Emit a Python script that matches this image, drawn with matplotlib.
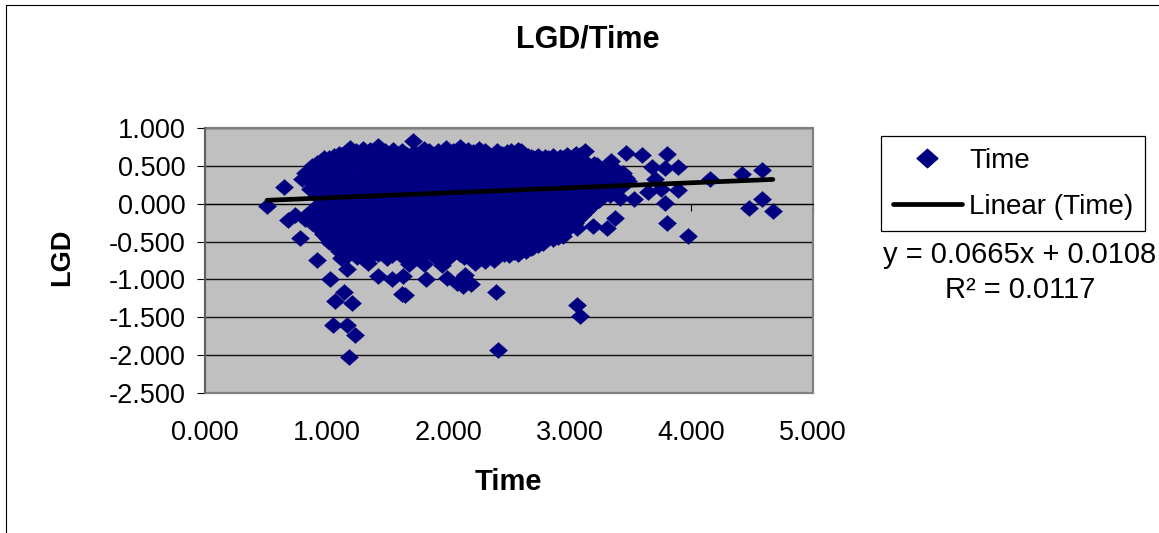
import matplotlib
matplotlib.use("Agg")
import matplotlib.pyplot as plt
from matplotlib.lines import Line2D
from matplotlib.patches import Rectangle
from matplotlib.path import Path

plt.rcParams['font.family'] = ['Liberation Sans', 'DejaVu Sans']

# Readings: isolated points around the cloud
time_outer = [0.51, 0.65, 0.78, 0.68, 0.74, 0.92, 1.03, 1.14, 1.07, 1.21, 1.05, 1.165, 1.23, 1.185,
              1.425, 1.535, 1.645, 1.62, 1.63, 1.82, 1.99, 2.07, 2.14, 2.12, 2.19, 2.39, 2.41,
              3.06, 3.08, 4.67, 4.47, 4.58, 4.58, 4.42, 4.15, 3.97, 3.80, 3.78, 3.89, 3.89,
              3.80, 3.78, 3.70, 3.68, 3.64, 3.59, 3.46, 3.53, 3.41, 3.37, 3.31, 3.06, 3.19,
              2.86, 3.125, 2.57, 2.57, 3.34, 3.75, 1.71]
lgd_outer = [-0.035, 0.22, -0.45, -0.21, -0.145, -0.74, -0.995, -1.16, -1.29, -1.31, -1.60, -1.60, -1.73, -2.02,
             -0.96, -0.995, -1.20, -1.19, -0.96, -1.00, -0.98, -1.05, -0.94, -1.09, -1.06, -1.16, -1.93,
             -1.34, -1.48, -0.097, -0.06, 0.065, 0.45, 0.39, 0.32, -0.42, -0.255, 0.01, 0.185, 0.48,
             0.655, 0.47, 0.33, 0.49, 0.15, 0.65, 0.67, 0.06, 0.08, -0.185, -0.32, -0.32, -0.30,
             -0.38, 0.69, 0.71, -0.67, 0.56, 0.20, 0.83]

# Readings: the dense cloud, one list per band of LGD
time_b73 = [1.24, 1.36, 1.48, 1.62, 1.84, 1.92, 2.04, 2.16, 2.30, 2.40, 2.52, 2.60]
lgd_b73 = [0.70, 0.71, 0.70, 0.70, 0.70, 0.69, 0.70, 0.71, 0.70, 0.69, 0.70, 0.69]
time_b70 = [1.10, 1.19, 1.30, 1.42, 1.55, 1.80, 1.98, 2.10, 2.25, 2.48, 2.66, 3.05]
lgd_b70 = [0.66, 0.74, 0.72, 0.76, 0.71, 0.72, 0.73, 0.75, 0.72, 0.68, 0.63, 0.66]
time_b68 = [1.12, 1.24, 1.36, 1.48, 1.60, 1.72, 1.84, 1.96, 2.08, 2.20, 2.32, 2.44, 2.56, 2.68, 2.80, 2.92, 3.04]
lgd_b68 = [0.64, 0.67, 0.68, 0.68, 0.67, 0.68, 0.68, 0.67, 0.68, 0.68, 0.67, 0.66, 0.67, 0.62, 0.62, 0.62, 0.64]
time_b65 = [1.06, 1.18, 1.30, 1.42, 1.54, 1.66, 1.78, 1.90, 2.02, 2.14, 2.26, 2.38, 2.50, 2.62, 2.74, 2.86, 2.98, 3.08]
lgd_b65 = [0.63, 0.65, 0.66, 0.65, 0.66, 0.65, 0.66, 0.65, 0.66, 0.65, 0.66, 0.65, 0.65, 0.64, 0.63, 0.63, 0.64, 0.65]
time_b62 = [1.02, 1.14, 1.26, 1.38, 1.50, 1.62, 1.74, 1.86, 1.98, 2.10, 2.22, 2.34, 2.46, 2.58, 2.70, 2.82, 2.94, 3.06]
lgd_b62 = [0.60, 0.62, 0.62, 0.63, 0.62, 0.62, 0.63, 0.62, 0.62, 0.63, 0.62, 0.62, 0.63, 0.62, 0.60, 0.60, 0.61, 0.62]
time_b60 = [0.98, 1.10, 1.22, 1.35, 1.47, 1.60, 1.72, 1.85, 1.97, 2.10, 2.22, 2.35, 2.47, 2.60, 2.72, 2.85, 2.98]
lgd_b60 = [0.60, 0.59, 0.62, 0.61, 0.60, 0.62, 0.61, 0.60, 0.62, 0.61, 0.60, 0.62, 0.60, 0.61, 0.60, 0.59, 0.60]
time_b58 = [0.96, 1.08, 1.20, 1.32, 1.44, 1.56, 1.68, 1.80, 1.92, 2.04, 2.16, 2.28, 2.40, 2.52, 2.64, 2.76, 2.88, 3.00, 3.12]
lgd_b58 = [0.57, 0.58, 0.58, 0.59, 0.58, 0.58, 0.59, 0.58, 0.58, 0.59, 0.58, 0.58, 0.59, 0.58, 0.58, 0.59, 0.58, 0.58, 0.57]
time_b55 = [0.92, 1.04, 1.16, 1.28, 1.40, 1.52, 1.64, 1.76, 1.88, 2.00, 2.12, 2.24, 2.36, 2.48, 2.60, 2.72, 2.84, 2.96, 3.08, 3.20]
lgd_b55 = [0.54, 0.55, 0.55, 0.56, 0.55, 0.55, 0.56, 0.55, 0.55, 0.56, 0.55, 0.55, 0.56, 0.55, 0.55, 0.56, 0.55, 0.55, 0.56, 0.53]
time_b52 = [0.94, 1.06, 1.18, 1.30, 1.42, 1.54, 1.66, 1.78, 1.90, 2.02, 2.14, 2.26, 2.38, 2.50, 2.62, 2.74, 2.86, 2.98, 3.10, 3.22]
lgd_b52 = [0.52, 0.52, 0.53, 0.52, 0.52, 0.53, 0.52, 0.52, 0.53, 0.52, 0.52, 0.53, 0.52, 0.52, 0.53, 0.52, 0.52, 0.53, 0.52, 0.51]
time_b50 = [0.88, 1.00, 1.13, 1.25, 1.38, 1.50, 1.63, 1.75, 1.88, 2.00, 2.13, 2.25, 2.38, 2.50, 2.63, 2.75, 2.88, 3.00, 3.12, 3.22]
lgd_b50 = [0.50, 0.51, 0.50, 0.49, 0.51, 0.50, 0.50, 0.51, 0.49, 0.50, 0.51, 0.50, 0.49, 0.50, 0.51, 0.50, 0.50, 0.52, 0.50, 0.47]
time_b45 = [0.86, 0.98, 1.10, 1.22, 1.34, 1.46, 1.58, 1.70, 1.82, 1.94, 2.06, 2.18, 2.30, 2.42, 2.54, 2.66, 2.78, 2.90, 3.02, 3.14, 3.26, 3.38]
lgd_b45 = [0.45, 0.45, 0.46, 0.45, 0.45, 0.46, 0.45, 0.45, 0.46, 0.45, 0.45, 0.46, 0.45, 0.45, 0.46, 0.45, 0.45, 0.46, 0.45, 0.45, 0.46, 0.44]
time_b40 = [0.82, 0.94, 1.07, 1.19, 1.32, 1.44, 1.57, 1.69, 1.82, 1.94, 2.07, 2.19, 2.32, 2.44, 2.57, 2.69, 2.82, 2.94, 3.07, 3.19, 3.32, 3.44]
lgd_b40 = [0.40, 0.41, 0.40, 0.39, 0.41, 0.40, 0.40, 0.41, 0.39, 0.40, 0.41, 0.40, 0.39, 0.40, 0.41, 0.40, 0.40, 0.41, 0.40, 0.39, 0.42, 0.40]
time_b35 = [0.84, 0.96, 1.08, 1.20, 1.32, 1.44, 1.56, 1.68, 1.80, 1.92, 2.04, 2.16, 2.28, 2.40, 2.52, 2.64, 2.76, 2.88, 3.00, 3.12, 3.24, 3.36, 3.46]
lgd_b35 = [0.35, 0.35, 0.36, 0.35, 0.35, 0.36, 0.35, 0.35, 0.36, 0.35, 0.35, 0.36, 0.35, 0.35, 0.36, 0.35, 0.35, 0.36, 0.35, 0.35, 0.36, 0.35, 0.34]
time_b30 = [0.80, 0.88, 1.00, 1.13, 1.25, 1.38, 1.50, 1.63, 1.75, 1.88, 2.00, 2.13, 2.25, 2.38, 2.50, 2.63, 2.75, 2.88, 3.00, 3.13, 3.25, 3.38, 3.48]
lgd_b30 = [0.33, 0.30, 0.31, 0.30, 0.29, 0.31, 0.30, 0.30, 0.31, 0.29, 0.30, 0.31, 0.30, 0.29, 0.30, 0.31, 0.30, 0.30, 0.31, 0.30, 0.29, 0.32, 0.30]
time_b25 = [0.90, 1.02, 1.14, 1.26, 1.38, 1.50, 1.62, 1.74, 1.86, 1.98, 2.10, 2.22, 2.34, 2.46, 2.58, 2.70, 2.82, 2.94, 3.06, 3.18, 3.30, 3.42]
lgd_b25 = [0.25, 0.25, 0.26, 0.25, 0.25, 0.26, 0.25, 0.25, 0.26, 0.25, 0.25, 0.26, 0.25, 0.25, 0.26, 0.25, 0.25, 0.26, 0.25, 0.25, 0.26, 0.24]
time_b20 = [0.86, 0.94, 1.07, 1.19, 1.32, 1.44, 1.57, 1.69, 1.82, 1.94, 2.07, 2.19, 2.32, 2.44, 2.57, 2.69, 2.82, 2.94, 3.07, 3.19, 3.32, 3.42]
lgd_b20 = [0.19, 0.20, 0.21, 0.20, 0.19, 0.21, 0.20, 0.20, 0.21, 0.19, 0.20, 0.21, 0.20, 0.19, 0.20, 0.21, 0.20, 0.20, 0.21, 0.20, 0.19, 0.22]
time_b15 = [0.92, 1.04, 1.16, 1.28, 1.40, 1.52, 1.64, 1.76, 1.88, 2.00, 2.12, 2.24, 2.36, 2.48, 2.60, 2.72, 2.84, 2.96, 3.08, 3.20, 3.32]
lgd_b15 = [0.15, 0.15, 0.16, 0.15, 0.15, 0.16, 0.15, 0.15, 0.16, 0.15, 0.15, 0.16, 0.15, 0.15, 0.16, 0.15, 0.15, 0.16, 0.15, 0.15, 0.16]
time_b10 = [0.92, 1.00, 1.13, 1.25, 1.38, 1.50, 1.63, 1.75, 1.88, 2.00, 2.13, 2.25, 2.38, 2.50, 2.63, 2.75, 2.88, 3.00, 3.13, 3.25, 3.33]
lgd_b10 = [0.10, 0.11, 0.10, 0.09, 0.11, 0.10, 0.10, 0.11, 0.09, 0.10, 0.11, 0.10, 0.09, 0.10, 0.11, 0.10, 0.10, 0.11, 0.10, 0.09, 0.11]
time_b05 = [0.96, 1.08, 1.20, 1.32, 1.44, 1.56, 1.68, 1.80, 1.92, 2.04, 2.16, 2.28, 2.40, 2.52, 2.64, 2.76, 2.88, 3.00, 3.12, 3.24]
lgd_b05 = [0.05, 0.05, 0.06, 0.05, 0.05, 0.06, 0.05, 0.05, 0.06, 0.05, 0.05, 0.06, 0.05, 0.05, 0.06, 0.05, 0.05, 0.06, 0.05, 0.05]
time_b00 = [0.94, 1.07, 1.19, 1.32, 1.44, 1.57, 1.69, 1.82, 1.94, 2.07, 2.19, 2.32, 2.44, 2.57, 2.69, 2.82, 2.94, 3.07, 3.19]
lgd_b00 = [0.00, 0.01, 0.00, -0.01, 0.01, 0.00, 0.00, 0.01, -0.01, 0.00, 0.01, 0.00, -0.01, 0.00, 0.01, 0.00, 0.00, 0.01, 0.00]
time_n05 = [0.92, 1.04, 1.16, 1.28, 1.40, 1.52, 1.64, 1.76, 1.88, 2.00, 2.12, 2.24, 2.36, 2.48, 2.60, 2.72, 2.84, 2.96, 3.08, 3.16]
lgd_n05 = [-0.05, -0.05, -0.06, -0.05, -0.05, -0.06, -0.05, -0.05, -0.06, -0.05, -0.05, -0.06, -0.05, -0.05, -0.06, -0.05, -0.05, -0.06, -0.05, -0.05]
time_n10 = [0.86, 1.00, 1.13, 1.25, 1.38, 1.50, 1.63, 1.75, 1.88, 2.00, 2.13, 2.25, 2.38, 2.50, 2.63, 2.75, 2.88, 3.00, 3.13]
lgd_n10 = [-0.11, -0.10, -0.09, -0.11, -0.10, -0.10, -0.11, -0.09, -0.10, -0.11, -0.10, -0.09, -0.10, -0.11, -0.10, -0.10, -0.11, -0.10, -0.09]
time_n15 = [0.84, 0.96, 1.08, 1.20, 1.32, 1.44, 1.56, 1.68, 1.80, 1.92, 2.04, 2.16, 2.28, 2.40, 2.52, 2.64, 2.76, 2.88, 3.00, 3.10]
lgd_n15 = [-0.15, -0.15, -0.16, -0.15, -0.15, -0.16, -0.15, -0.15, -0.16, -0.15, -0.15, -0.16, -0.15, -0.15, -0.16, -0.15, -0.15, -0.16, -0.15, -0.15]
time_n20 = [0.82, 0.94, 1.07, 1.19, 1.32, 1.44, 1.57, 1.69, 1.82, 1.94, 2.07, 2.19, 2.32, 2.44, 2.57, 2.69, 2.82, 2.94, 3.07]
lgd_n20 = [-0.20, -0.21, -0.20, -0.19, -0.21, -0.20, -0.20, -0.21, -0.19, -0.20, -0.21, -0.20, -0.19, -0.20, -0.21, -0.20, -0.20, -0.21, -0.20]
time_n25 = [0.88, 1.00, 1.12, 1.24, 1.36, 1.48, 1.60, 1.72, 1.84, 1.96, 2.08, 2.20, 2.32, 2.44, 2.56, 2.68, 2.80, 2.92, 3.04]
lgd_n25 = [-0.25, -0.25, -0.26, -0.25, -0.25, -0.26, -0.25, -0.25, -0.26, -0.25, -0.25, -0.26, -0.25, -0.25, -0.26, -0.25, -0.25, -0.26, -0.25]
time_n30 = [0.92, 1.00, 1.13, 1.25, 1.38, 1.50, 1.63, 1.75, 1.88, 2.00, 2.13, 2.25, 2.38, 2.50, 2.63, 2.75, 2.88, 2.98]
lgd_n30 = [-0.31, -0.30, -0.29, -0.31, -0.30, -0.30, -0.31, -0.29, -0.30, -0.31, -0.30, -0.29, -0.30, -0.31, -0.30, -0.30, -0.31, -0.30]
time_n35 = [0.96, 1.08, 1.20, 1.32, 1.44, 1.56, 1.68, 1.80, 1.92, 2.04, 2.16, 2.28, 2.40, 2.52, 2.64, 2.76, 2.88, 2.96]
lgd_n35 = [-0.35, -0.35, -0.36, -0.35, -0.35, -0.36, -0.35, -0.35, -0.36, -0.35, -0.35, -0.36, -0.35, -0.35, -0.36, -0.35, -0.35, -0.36]
time_n40 = [0.97, 1.07, 1.19, 1.32, 1.44, 1.57, 1.69, 1.82, 1.94, 2.07, 2.19, 2.32, 2.44, 2.57, 2.69, 2.82, 2.92]
lgd_n40 = [-0.40, -0.41, -0.40, -0.39, -0.41, -0.40, -0.40, -0.41, -0.39, -0.40, -0.41, -0.40, -0.39, -0.40, -0.41, -0.40, -0.38]
time_n43 = [1.04, 1.16, 1.28, 1.40, 1.52, 1.64, 1.76, 1.88, 2.00, 2.12, 2.24, 2.36, 2.48, 2.60, 2.72, 2.84, 2.94]
lgd_n43 = [-0.43, -0.43, -0.44, -0.43, -0.43, -0.44, -0.43, -0.43, -0.44, -0.43, -0.43, -0.44, -0.43, -0.43, -0.44, -0.43, -0.42]
time_n45 = [1.00, 1.12, 1.24, 1.36, 1.48, 1.60, 1.72, 1.84, 1.96, 2.08, 2.20, 2.32, 2.44, 2.56, 2.68, 2.80, 2.90]
lgd_n45 = [-0.45, -0.45, -0.46, -0.45, -0.45, -0.46, -0.45, -0.45, -0.46, -0.45, -0.45, -0.46, -0.45, -0.45, -0.46, -0.45, -0.44]
time_n48 = [1.06, 1.18, 1.30, 1.42, 1.54, 1.66, 1.78, 1.90, 2.02, 2.14, 2.26, 2.38, 2.50, 2.62, 2.74, 2.86]
lgd_n48 = [-0.48, -0.48, -0.49, -0.48, -0.48, -0.49, -0.48, -0.48, -0.49, -0.48, -0.48, -0.49, -0.48, -0.48, -0.49, -0.46]
time_n50 = [1.02, 1.13, 1.25, 1.38, 1.50, 1.63, 1.75, 1.88, 2.00, 2.13, 2.25, 2.38, 2.50, 2.63, 2.75]
lgd_n50 = [-0.51, -0.50, -0.49, -0.51, -0.50, -0.50, -0.51, -0.49, -0.50, -0.51, -0.50, -0.49, -0.50, -0.51, -0.50]
time_n53 = [1.12, 1.24, 1.36, 1.48, 1.60, 1.72, 1.84, 1.96, 2.08, 2.20, 2.32, 2.44, 2.56, 2.68, 2.78]
lgd_n53 = [-0.53, -0.53, -0.54, -0.53, -0.53, -0.54, -0.53, -0.53, -0.54, -0.53, -0.53, -0.54, -0.53, -0.53, -0.52]
time_n55 = [1.06, 1.18, 1.30, 1.42, 1.54, 1.66, 1.78, 1.90, 2.02, 2.14, 2.26, 2.38, 2.50, 2.62, 2.74]
lgd_n55 = [-0.55, -0.55, -0.56, -0.55, -0.55, -0.56, -0.55, -0.55, -0.56, -0.55, -0.55, -0.56, -0.55, -0.55, -0.54]
time_n58 = [1.16, 1.28, 1.40, 1.52, 1.64, 1.76, 1.88, 2.00, 2.12, 2.24, 2.36, 2.48, 2.60, 2.70]
lgd_n58 = [-0.58, -0.58, -0.59, -0.58, -0.58, -0.59, -0.58, -0.58, -0.59, -0.58, -0.58, -0.59, -0.58, -0.57]
time_n60 = [1.10, 1.19, 1.32, 1.44, 1.57, 1.69, 1.82, 1.94, 2.07, 2.19, 2.32, 2.44, 2.57, 2.68]
lgd_n60 = [-0.62, -0.60, -0.59, -0.61, -0.60, -0.60, -0.61, -0.59, -0.60, -0.61, -0.60, -0.59, -0.60, -0.58]
time_n63 = [1.22, 1.34, 1.46, 1.58, 1.70, 1.82, 1.94, 2.06, 2.18, 2.30, 2.42, 2.54, 2.64]
lgd_n63 = [-0.63, -0.63, -0.64, -0.63, -0.63, -0.64, -0.63, -0.63, -0.64, -0.63, -0.63, -0.64, -0.62]
time_n65 = [1.14, 1.26, 1.38, 1.50, 1.62, 1.74, 1.86, 1.98, 2.10, 2.22, 2.34, 2.46, 2.58]
lgd_n65 = [-0.65, -0.65, -0.66, -0.65, -0.65, -0.66, -0.65, -0.65, -0.66, -0.65, -0.65, -0.66, -0.64]
time_n68 = [1.18, 1.30, 1.42, 1.54, 1.66, 1.78, 1.90, 2.02, 2.14, 2.26, 2.38, 2.50]
lgd_n68 = [-0.68, -0.68, -0.67, -0.68, -0.68, -0.69, -0.68, -0.68, -0.69, -0.68, -0.68, -0.67]
time_n70 = [1.12, 1.25, 1.50, 1.63, 1.75, 1.88, 2.00, 2.13, 2.25, 2.38, 2.50]
lgd_n70 = [-0.72, -0.70, -0.72, -0.70, -0.71, -0.69, -0.72, -0.71, -0.70, -0.74, -0.68]
time_n80 = [1.17, 1.34, 1.68, 1.80, 1.95, 2.22, 2.30]
lgd_n80 = [-0.86, -0.78, -0.80, -0.79, -0.81, -0.78, -0.76]

# Trend line end points as drawn
trend_time = [0.51, 4.67]
trend_lgd = [0.045, 0.321]

x_ticks = [0, 1, 2, 3, 4, 5]
y_ticks = [-2.5, -2.0, -1.5, -1.0, -0.5, 0.0, 0.5, 1.0]

time_all = (time_outer + time_b73 + time_b70 + time_b68 + time_b65 + time_b62 + time_b60 + time_b58 + time_b55
            + time_b52 + time_b50 + time_b45 + time_b40 + time_b35 + time_b30 + time_b25 + time_b20 + time_b15
            + time_b10 + time_b05 + time_b00 + time_n05 + time_n10 + time_n15 + time_n20 + time_n25 + time_n30
            + time_n35 + time_n40 + time_n43 + time_n45 + time_n48 + time_n50 + time_n53 + time_n55 + time_n58
            + time_n60 + time_n63 + time_n65 + time_n68 + time_n70 + time_n80)
lgd_all = (lgd_outer + lgd_b73 + lgd_b70 + lgd_b68 + lgd_b65 + lgd_b62 + lgd_b60 + lgd_b58 + lgd_b55
           + lgd_b52 + lgd_b50 + lgd_b45 + lgd_b40 + lgd_b35 + lgd_b30 + lgd_b25 + lgd_b20 + lgd_b15
           + lgd_b10 + lgd_b05 + lgd_b00 + lgd_n05 + lgd_n10 + lgd_n15 + lgd_n20 + lgd_n25 + lgd_n30
           + lgd_n35 + lgd_n40 + lgd_n43 + lgd_n45 + lgd_n48 + lgd_n50 + lgd_n53 + lgd_n55 + lgd_n58
           + lgd_n60 + lgd_n63 + lgd_n65 + lgd_n68 + lgd_n70 + lgd_n80)

W, H = 1159, 533
fig = plt.figure(figsize=(W / 100, H / 100), dpi=100, facecolor='white')
ax = fig.add_axes([205 / W, (H - 393) / H, 608 / W, 265 / H], facecolor='#C0C0C0')

diamond = Path([(-9, 0), (0, 8), (9, 0), (0, -8), (-9, 0)], closed=True)
NAVY = '#000080'
ax.plot(time_all, lgd_all, ls='none', marker=diamond, ms=13, mfc=NAVY, mec=NAVY, mew=0.3,
        label='Time', zorder=3, clip_on=True)
ax.plot(trend_time, trend_lgd, color='black', lw=3.4, solid_capstyle='round',
        label='Linear (Time)', zorder=4)

ax.set_xlim(0, 5)
ax.set_ylim(-2.5, 1)
ax.set_xticks(x_ticks)
ax.set_yticks(y_ticks)
ax.set_xticklabels([f'{v:.3f}' for v in x_ticks])
ax.set_yticklabels([f'{v:.3f}' for v in y_ticks])
ax.yaxis.grid(True, color='#101010', lw=1)
ax.set_axisbelow(True)

for s in ['top', 'right']:
    ax.spines[s].set_visible(False)
ax.spines['bottom'].set_position(('data', 0))
ax.spines['bottom'].set_color('black')
ax.spines['bottom'].set_linewidth(0.8)
ax.spines['left'].set_color('#606060')
ax.spines['left'].set_linewidth(1.4)
ax.add_patch(Rectangle((0, 0), 1, 1, transform=ax.transAxes, fill=False, ec='#808080', lw=1.6,
                       clip_on=False, zorder=2))
ax.tick_params(axis='x', length=5, width=0.8, color='black', direction='out', labelsize=19.5, pad=151)
ax.tick_params(axis='y', length=6, width=0.8, color='black', direction='out', labelsize=19.5, pad=8)

px = lambda x: x / W
py = lambda y: 1 - y / H
fig.text(px(588), py(40), 'LGD/Time', ha='center', va='center', fontsize=22, fontweight='bold')
fig.text(px(508), py(482), 'Time', ha='center', va='center', fontsize=21, fontweight='bold')
fig.text(px(62), py(257), 'LGD', ha='center', va='center', rotation=90, fontsize=19.5, fontweight='bold')
fig.text(px(1020), py(255), 'y = 0.0665x + 0.0108', ha='center', va='center', fontsize=21)
fig.text(px(1020), py(290), 'R² = 0.0117', ha='center', va='center', fontsize=21)

handles = [Line2D([], [], ls='none', marker=diamond, ms=15, mfc=NAVY, mec=NAVY),
           Line2D([], [], color='black', lw=3.4, solid_capstyle='round')]
leg = fig.legend(handles, ['Time', 'Linear (Time)'], loc='upper left', bbox_to_anchor=(881 / W, py(136)),
                 borderaxespad=0, fontsize=20, frameon=True, fancybox=False, edgecolor='black',
                 framealpha=1, borderpad=0.42, handlelength=2.5, handletextpad=0.25, labelspacing=0.72)
leg.get_frame().set_linewidth(0.9)

fig.add_artist(Line2D([px(6), px(6)], [0, py(5)], color='black', lw=0.8))
fig.add_artist(Line2D([px(6), 1], [py(5), py(5)], color='black', lw=0.8))

fig.savefig('out.png', dpi=100, facecolor='white')
